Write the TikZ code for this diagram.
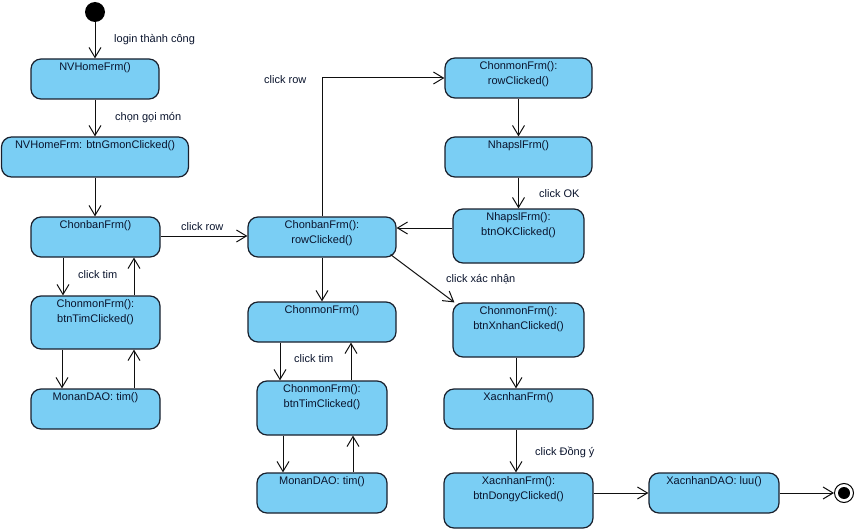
\documentclass[tikz,border=0pt]{standalone}
\usepackage{fontspec}
\setmainfont{Liberation Sans}
\usetikzlibrary{arrows.meta}
\definecolor{stfill}{RGB}{122,206,244}
\definecolor{stline}{RGB}{25,32,45}
\definecolor{sttext}{RGB}{10,20,45}
\definecolor{flow}{RGB}{15,15,15}
\begin{document}
\begin{tikzpicture}[x=1pt,y=-1pt,
  every node/.style={font=\fontsize{11}{14.5}\selectfont},
  actbox/.style={draw=stline, line width=1.2pt, fill=stfill, rounded corners=10pt, inner sep=0pt},
  boxtext/.style={anchor=north, yshift=-4pt, inner sep=0pt, align=center, text=sttext},
  act/.style n args={3}{actbox, minimum width=#1, minimum height=#2,
    label={[boxtext]north:{#3}}},
  lbl/.style={anchor=west, inner sep=0pt, text=sttext},
  arr/.style={draw=flow, line width=1pt, -{Straight Barb[length=10pt,width=12pt]}}
]
\fill[white] (0,0) rectangle (857,532);
\useasboundingbox (0,0) rectangle (857,532);

% initial and final pseudo-states
\node[circle, fill=black, minimum size=20pt, inner sep=0pt] (start) at (95,12) {};
\node[circle, draw=black, line width=1pt, fill=white, minimum size=19pt, inner sep=0pt] (stop) at (844,493) {};
\node[circle, fill=black, minimum size=12pt, inner sep=0pt] (stopdot) at (stop.center) {};

% left column
\node[act={128}{40}{NVHomeFrm()}] (n1) at (95,79) {};
\node[act={187}{40}{NVHomeFrm: btnGmonClicked()}] (n2) at (95,157) {};
\node[act={129}{40}{ChonbanFrm()}] (n3) at (95.5,237) {};
\node[act={129}{53}{ChonmonFrm():\\btnTimClicked()}] (n4) at (95.5,322.5) {};
\node[act={129}{40}{MonanDAO: tim()}] (n5) at (95.5,409) {};

% middle column
\node[act={148}{40}{ChonbanFrm():\\rowClicked()}] (m1) at (322,237) {};
\node[act={148}{40}{ChonmonFrm()}] (m2) at (322,322) {};
\node[act={130}{54}{ChonmonFrm():\\btnTimClicked()}] (m3) at (322,408) {};
\node[act={130}{40}{MonanDAO: tim()}] (m4) at (322,493) {};

% right column
\node[act={147}{40}{ChonmonFrm():\\rowClicked()}] (r1) at (518.5,78) {};
\node[act={147}{40}{NhapslFrm()}] (r2) at (518.5,157) {};
\node[act={131}{54}{NhapslFrm():\\btnOKClicked()}] (r3) at (518.5,236) {};
\node[act={131}{54}{ChonmonFrm():\\btnXnhanClicked()}] (r4) at (518.5,330) {};
\node[act={149}{40}{XacnhanFrm()}] (r5) at (518.5,409) {};
\node[act={149}{55}{XacnhanFrm():\\btnDongyClicked()}] (r6) at (518.5,500.5) {};
\node[act={130}{40}{XacnhanDAO: luu()}] (d1) at (714,493) {};

% transitions, left column
\draw[arr] (start) -- (n1.north);
\draw[arr] (n1) -- (n2);
\draw[arr] (n2.south -| 95,0) -- (n3.north -| 95,0);
\draw[arr] (n3.south -| 63,0) -- (n4.north -| 63,0);
\draw[arr] (n4.north -| 134,0) -- (n3.south -| 134,0);
\draw[arr] (n4.south -| 62,0) -- (n5.north -| 62,0);
\draw[arr] (n5.north -| 134,0) -- (n4.south -| 134,0);
\draw[arr] (n3.east |- 0,236) -- (m1.west |- 0,236);

% transitions, middle column
\draw[arr] (m1.north) |- (r1.west);
\draw[arr] (m1) -- (m2);
\draw[arr] ([shift={(-6pt,3pt)}]m1.south east) -- ([xshift=2pt]r4.north west);
\draw[arr] (m2.south -| 280,0) -- (m3.north -| 280,0);
\draw[arr] (m3.north -| 351,0) -- (m2.south -| 351,0);
\draw[arr] (m3.south -| 283,0) -- (m4.north -| 283,0);
\draw[arr] (m4.north -| 353,0) -- (m3.south -| 353,0);

% transitions, right column
\draw[arr] (r1) -- (r2);
\draw[arr] (r2) -- (r3);
\draw[arr] (r3.west |- 0,228) -- (m1.east |- 0,228);
\draw[arr] (r4.south -| 516,0) -- (r5.north -| 516,0);
\draw[arr] (r5.south -| 516,0) -- (r6.north -| 516,0);
\draw[arr] (r6.east |- d1.west) -- (d1.west);
\draw[arr] (d1.east) -- (stop);

% transition labels
\node[lbl] (t1) at (114,40) {login thành công};
\node[lbl] (t2) at (115,118) {chọn gọi món};
\node[lbl] (t3) at (78,275) {click tim};
\node[lbl] (t4) at (181,227) {click row};
\node[lbl] (t5) at (264,80) {click row};
\node[lbl] (t6) at (539,194) {click OK};
\node[lbl] (t7) at (446,279) {click xác nhận};
\node[lbl] (t8) at (294,359) {click tim};
\node[lbl] (t9) at (535,452) {click Đồng ý};
\end{tikzpicture}
\end{document}
